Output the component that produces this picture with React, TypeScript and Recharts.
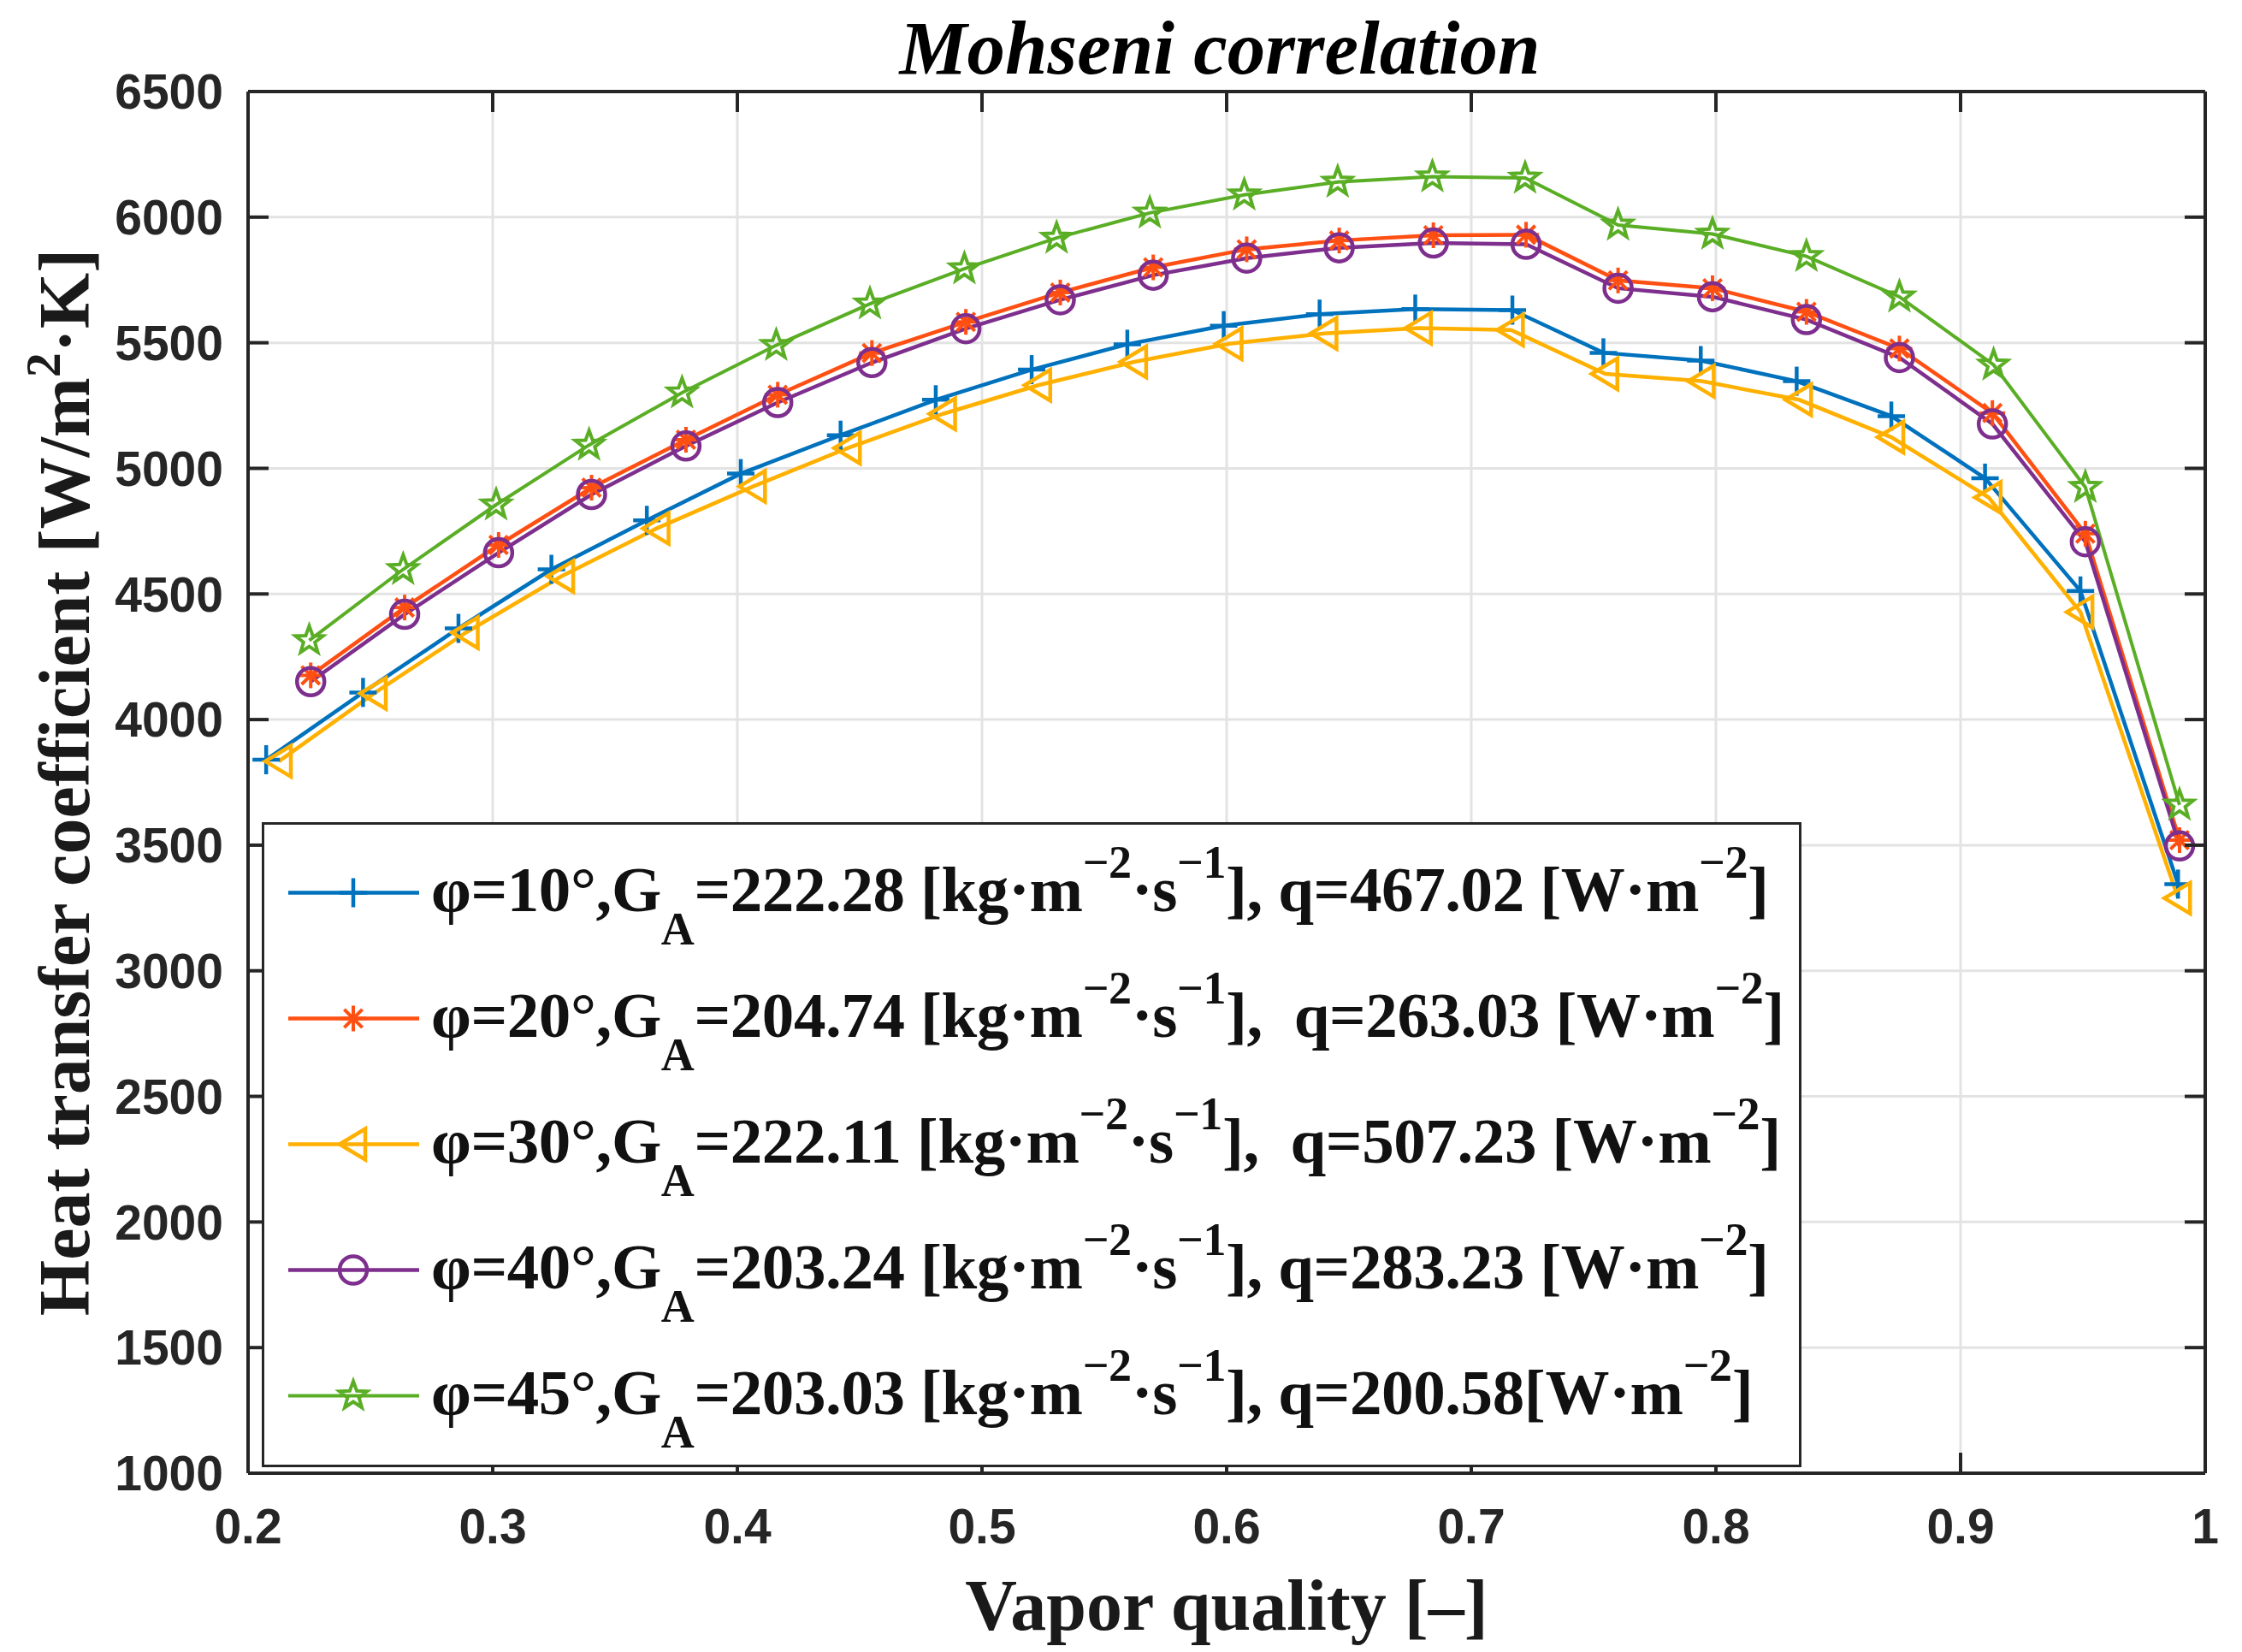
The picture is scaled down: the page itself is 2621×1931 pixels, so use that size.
import React from 'react';
import { LineChart, Line, XAxis, YAxis, CartesianGrid, Legend } from 'recharts';

// axis ticks
const xTicks = [0.2, 0.3, 0.4, 0.5, 0.6, 0.7, 0.8, 0.9, 1];
const yTicks = [1000, 1500, 2000, 2500, 3000, 3500, 4000, 4500, 5000, 5500, 6000, 6500];

// phi = 10 deg
const quality10 = [0.2074, 0.247, 0.286, 0.324, 0.363, 0.4014, 0.4422, 0.4811, 0.5203, 0.5594, 0.5988, 0.638, 0.6771, 0.7168, 0.754, 0.7938, 0.833, 0.8717, 0.91, 0.949, 0.9889];
const htc10 = [3840, 4108, 4363, 4598, 4793, 4979, 5132, 5273, 5393, 5494, 5568, 5614, 5634, 5630, 5460, 5429, 5347, 5208, 4961, 4512, 3345];

// phi = 20 deg
const quality20 = [0.2256, 0.264, 0.3024, 0.3404, 0.379, 0.4165, 0.455, 0.4934, 0.532, 0.57, 0.6082, 0.646, 0.6845, 0.7224, 0.76, 0.7986, 0.837, 0.875, 0.913, 0.951, 0.9895];
const htc20 = [4176, 4446, 4695, 4923, 5114, 5293, 5459, 5583, 5700, 5800, 5872, 5907, 5928, 5930, 5748, 5717, 5623, 5477, 5220, 4740, 3520];

// phi = 30 deg
const quality30 = [0.2126, 0.2514, 0.289, 0.328, 0.367, 0.4064, 0.4452, 0.4841, 0.523, 0.5622, 0.6012, 0.64, 0.6786, 0.7162, 0.7548, 0.7942, 0.834, 0.8717, 0.9115, 0.949, 0.9889];
const htc30 = [3834, 4104, 4346, 4570, 4761, 4928, 5081, 5217, 5331, 5424, 5496, 5537, 5558, 5551, 5376, 5347, 5273, 5124, 4884, 4428, 3289];

// phi = 40 deg
const quality40 = [0.2256, 0.264, 0.3024, 0.3404, 0.379, 0.4165, 0.455, 0.4934, 0.532, 0.57, 0.6082, 0.646, 0.6845, 0.7224, 0.76, 0.7986, 0.837, 0.875, 0.913, 0.951, 0.9895];
const htc40 = [4151, 4419, 4664, 4896, 5089, 5262, 5421, 5556, 5671, 5769, 5837, 5878, 5897, 5892, 5717, 5683, 5592, 5441, 5177, 4708, 3497];

// phi = 45 deg
const quality45 = [0.225, 0.2634, 0.3014, 0.3394, 0.3774, 0.4159, 0.4542, 0.4928, 0.5305, 0.5686, 0.6072, 0.6454, 0.6841, 0.722, 0.76, 0.7986, 0.837, 0.875, 0.9135, 0.951, 0.9895];
const htc45 = [4315, 4598, 4855, 5093, 5301, 5490, 5655, 5795, 5917, 6017, 6089, 6140, 6161, 6156, 5969, 5933, 5844, 5683, 5412, 4925, 3660];

// legend values
const phiDeg = [10, 20, 30, 40, 45];
const massFlux = ['222.28', '204.74', '222.11', '203.24', '203.03'];
const heatFlux = ['467.02', '263.03', '507.23', '283.23', '200.58'];
const qLead = [' ', '  ', '  ', ' ', ' '];
const qGap = [' ', ' ', ' ', ' ', ''];

const AXIS = '#262626';
const GRID = '#e3e3e3';
const SERIF = "'Liberation Serif', 'Times New Roman', serif";
const SANS = "'Liberation Sans', Arial, sans-serif";
const TICK_LEN = 24;

const toRows = (xs: number[], ys: number[]) => xs.map((x, i) => ({ x, h: ys[i] }));

// the last series sits on the top/right axes (same domains) so those axes get data and draw ticks
const series = [
  { key: 's10', data: toRows(quality10, htc10), color: '#0072BD', shape: 'plus', width: 4.5, xId: 0, yId: 0 },
  { key: 's20', data: toRows(quality20, htc20), color: '#FF4F12', shape: 'aster', width: 4.5, xId: 0, yId: 0 },
  { key: 's30', data: toRows(quality30, htc30), color: '#FFB000', shape: 'tri', width: 4.5, xId: 0, yId: 0 },
  { key: 's40', data: toRows(quality40, htc40), color: '#7E2F8E', shape: 'circle', width: 4.5, xId: 0, yId: 0 },
  { key: 's45', data: toRows(quality45, htc45), color: '#5AAE25', shape: 'penta', width: 4, xId: 'top', yId: 'right' },
];

function Marker({ shape, cx, cy, color }: { shape: string; cx: number; cy: number; color: string }) {
  if (cx == null || cy == null) return null;
  if (shape === 'plus') {
    return (
      <g stroke={color} strokeWidth={4.5}>
        <line x1={cx - 16} y1={cy} x2={cx + 16} y2={cy} />
        <line x1={cx} y1={cy - 17} x2={cx} y2={cy + 17} />
      </g>
    );
  }
  if (shape === 'aster') {
    const r = 15;
    const d = r * 0.707;
    return (
      <g stroke={color} strokeWidth={4}>
        <line x1={cx - r} y1={cy} x2={cx + r} y2={cy} />
        <line x1={cx} y1={cy - r} x2={cx} y2={cy + r} />
        <line x1={cx - d} y1={cy - d} x2={cx + d} y2={cy + d} />
        <line x1={cx - d} y1={cy + d} x2={cx + d} y2={cy - d} />
      </g>
    );
  }
  if (shape === 'tri') {
    const pts = `${cx - 16},${cy} ${cx + 14},${cy - 18} ${cx + 14},${cy + 18}`;
    return <polygon points={pts} fill="none" stroke={color} strokeWidth={4.5} strokeLinejoin="miter" />;
  }
  if (shape === 'circle') {
    return <circle cx={cx} cy={cy} r={16} fill="none" stroke={color} strokeWidth={4.5} />;
  }
  const pts: string[] = [];
  for (let k = 0; k < 10; k++) {
    const r = k % 2 === 0 ? 17 : 7;
    const a = -Math.PI / 2 + (k * Math.PI) / 5;
    pts.push(`${cx + r * Math.cos(a)},${cy + r * Math.sin(a)}`);
  }
  return <polygon points={pts.join(' ')} fill="none" stroke={color} strokeWidth={4} />;
}

// tick renderers: label plus an inward tick mark (MATLAB style)
const LEFT_GAP = 29;
const BOTTOM_GAP = 42;

function LeftTick(props: any) {
  const { x, y, payload } = props;
  const edge = x + LEFT_GAP;
  return (
    <g>
      <line x1={edge} x2={edge + TICK_LEN} y1={y} y2={y} stroke={AXIS} strokeWidth={4} />
      <text x={x} y={y} dy="0.355em" textAnchor="end" fontFamily={SANS} fontSize={57} fontWeight={700} fill={AXIS}>
        {String(payload.value)}
      </text>
    </g>
  );
}

function BottomTick(props: any) {
  const { x, y, payload } = props;
  const edge = y - BOTTOM_GAP;
  return (
    <g>
      <line x1={x} x2={x} y1={edge} y2={edge - TICK_LEN} stroke={AXIS} strokeWidth={4} />
      <text x={x} y={y} dy="0.71em" textAnchor="middle" fontFamily={SANS} fontSize={57} fontWeight={700} fill={AXIS}>
        {String(payload.value)}
      </text>
    </g>
  );
}

function TopTick(props: any) {
  const { x, y } = props;
  return <line x1={x} x2={x} y1={y} y2={y + TICK_LEN} stroke={AXIS} strokeWidth={4} />;
}

function RightTick(props: any) {
  const { x, y } = props;
  return <line x1={x - TICK_LEN} x2={x} y1={y} y2={y} stroke={AXIS} strokeWidth={4} />;
}

// grid lines stop short of the inward tick marks so the ticks stay visible
function GridH(props: any) {
  return <line key={`gh-${props.index}`} x1={props.x1 + TICK_LEN} x2={props.x2 - TICK_LEN} y1={props.y1} y2={props.y2}
    stroke={GRID} strokeWidth={3} />;
}

function GridV(props: any) {
  return <line key={`gv-${props.index}`} x1={props.x1} x2={props.x2} y1={props.y1 + TICK_LEN} y2={props.y2 - TICK_LEN}
    stroke={GRID} strokeWidth={3} />;
}

function TitleLabel(props: any) {
  const vb = props.viewBox || { x: 290, y: 106, width: 2288, height: 1 };
  return (
    <text x={vb.x + vb.width / 2 - 8} y={vb.y + vb.height - 21} textAnchor="middle" fontFamily={SERIF}
      fontWeight={700} fontStyle="italic" fontSize={89} fill="#000">
      Mohseni correlation
    </text>
  );
}

function XLabel(props: any) {
  const vb = props.viewBox || { x: 290, y: 1722, width: 2288 };
  return (
    <text x={vb.x + vb.width / 2} y={vb.y + 183} textAnchor="middle" fontFamily={SERIF} fontWeight={700}
      fontSize={84} fill="#1a1a1a">
      Vapor quality [–]
    </text>
  );
}

function YLabel(props: any) {
  const vb = props.viewBox || { x: 0, y: 107, width: 290, height: 1615 };
  const cx = vb.x + 104;
  const cy = vb.y + vb.height / 2;
  return (
    <text x={cx} y={cy} transform={`rotate(-90, ${cx}, ${cy})`} textAnchor="middle" fontFamily={SERIF}
      fontWeight={700} fontSize={84} fill="#1a1a1a">
      <tspan>Heat transfer coefficient [W/m</tspan>
      <tspan dy={-34} fontSize={58}>2</tspan>
      <tspan dy={34}>·K]</tspan>
    </text>
  );
}

const subStyle: React.CSSProperties = { position: 'relative', top: '0.72em', fontSize: '0.72em' };
const supStyle: React.CSSProperties = { position: 'relative', top: '-0.72em', fontSize: '0.72em' };

function LegendBox() {
  return (
    <div style={{
      width: 1800, height: 754, boxSizing: 'border-box', border: `3px solid ${AXIS}`, background: '#fff',
      paddingTop: 6,
    }}>
      {series.map((s, i) => (
        <div key={s.key} style={{ display: 'flex', alignItems: 'center', height: 147 }}>
          <svg width={195} height={147} style={{ flex: 'none' }}>
            <line x1={28} x2={181} y1={73.5} y2={73.5} stroke={s.color} strokeWidth={s.width} />
            <Marker shape={s.shape} cx={104} cy={73.5} color={s.color} />
          </svg>
          <span style={{
            fontFamily: SERIF, fontWeight: 700, fontSize: 75, lineHeight: 1, color: '#111',
            whiteSpace: 'pre', position: 'relative', top: -4, letterSpacing: -0.4,
          }}>
            {`φ=${phiDeg[i]}°,G`}
            <span style={subStyle}>A</span>
            {`=${massFlux[i]} [kg·m`}
            <span style={supStyle}>−2</span>
            {'·s'}
            <span style={supStyle}>−1</span>
            {`],${qLead[i]}q=${heatFlux[i]}${qGap[i]}[W·m`}
            <span style={supStyle}>−2</span>
            {']'}
          </span>
        </div>
      ))}
    </div>
  );
}

const boxLine = { stroke: AXIS, strokeWidth: 4 };

export default function App() {
  return (
    <div style={{ position: 'absolute', left: 0, top: 0, width: 2621, height: 1931, background: '#fff' }}>
      <LineChart width={2621} height={1931} margin={{ top: 106, right: 42, bottom: 0, left: 0 }}>
        <CartesianGrid horizontal={(p: any) => <GridH {...p} />} vertical={(p: any) => <GridV {...p} />} />
        <XAxis dataKey="x" type="number" domain={[0.2, 1]} ticks={xTicks} allowDataOverflow interval={0}
          height={209} tickLine={false} tickSize={0} tickMargin={BOTTOM_GAP} axisLine={boxLine}
          tick={(p: any) => <BottomTick {...p} />} label={<XLabel />} />
        <YAxis type="number" domain={[1000, 6500]} ticks={yTicks} allowDataOverflow interval={0}
          width={290} tickLine={false} tickSize={0} tickMargin={LEFT_GAP} axisLine={boxLine}
          tick={(p: any) => <LeftTick {...p} />} label={<YLabel />} />
        <XAxis xAxisId="top" orientation="top" dataKey="x" type="number" domain={[0.2, 1]} ticks={xTicks}
          allowDataOverflow interval={0} height={1} tickLine={false} tickSize={0} tickMargin={0}
          axisLine={boxLine} tick={(p: any) => <TopTick {...p} />} label={<TitleLabel />} />
        <YAxis yAxisId="right" orientation="right" type="number" domain={[1000, 6500]} ticks={yTicks}
          allowDataOverflow interval={0} width={1} tickLine={false} tickSize={0} tickMargin={0}
          axisLine={boxLine} tick={(p: any) => <RightTick {...p} />} />
        {series.map((s) => (
          <Line key={s.key} data={s.data} dataKey="h" type="linear" xAxisId={s.xId} yAxisId={s.yId}
            stroke={s.color} strokeWidth={s.width} isAnimationActive={false} activeDot={false}
            dot={(p: any) => <Marker key={`${s.key}-${p.index}`} shape={s.shape} cx={p.cx} cy={p.cy} color={s.color} />} />
        ))}
        <Legend layout="vertical" align="center" verticalAlign="middle"
          wrapperStyle={{ left: 306, top: 961, width: 1800, height: 754 }}
          content={() => <LegendBox />} />
      </LineChart>
    </div>
  );
}
